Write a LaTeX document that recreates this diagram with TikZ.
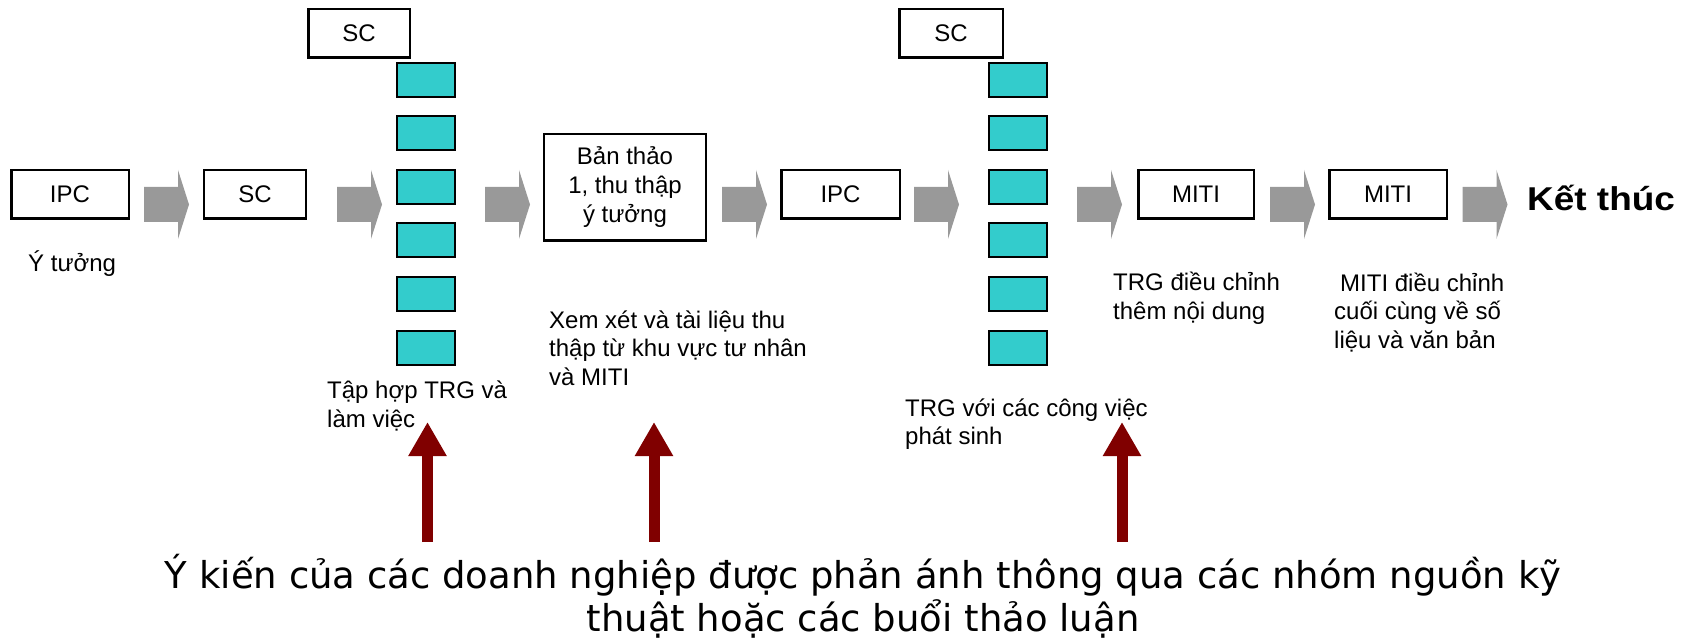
\documentclass[tikz,border=0pt]{standalone}
\usepackage{fontspec}
\usepackage{graphicx}
\setmainfont{Liberation Sans}
\newfontfamily\opinionfont{DejaVu Sans}
\usetikzlibrary{calc,arrows.meta}
\definecolor{trgteal}{RGB}{51,204,204}
\definecolor{arrowgray}{RGB}{153,153,153}
\definecolor{inputred}{RGB}{128,0,0}
\def\blockarrow(#1){\fill[arrowgray] ($(#1)+(0,-17.5)$) -- ++(34,0) -- ++(0,-17) -- ++(11,34.5) -- ++(-11,34.5) -- ++(0,-17) -- ++(-34,0) -- cycle;}
\tikzset{
	stagebox/.style={draw=black, line width=2.5pt, minimum height=48.5pt, inner sep=0pt},
	trgbox/.style={draw=black, fill=trgteal, line width=2pt, minimum width=58pt, minimum height=34pt, inner sep=0pt},
	note/.style={align=left, anchor=base west, inner sep=0pt},
	inputarrow/.style={draw=inputred, line width=11pt, -{Triangle[width=36pt,length=34pt]}}
}

\begin{document}
\begin{tikzpicture}[x=1pt,y=-1pt,font=\fontsize{24}{28.5}\selectfont]
			%%%%% START %%%%%
			\useasboundingbox (0,0) rectangle (1687,639);
			
			% base of a note = baseline of its last line
			\node[stagebox, minimum width=117.5pt] (ipcA) at (70,194.5) {IPC};
			\node[note] (ideaNote) at (28,272) {Ý tưởng};
			\blockarrow(144,204.5);
			
			\node[stagebox, minimum width=102pt] (scA) at (255,194.5) {SC};
			\blockarrow(337,204.5);
			
			\node[stagebox, minimum width=101.5pt] (scTopA) at (359,33.5) {SC};
			\node[trgbox] (trgA1) at (426,80) {};
			\node[trgbox] (trgA2) at (426,133.5) {};
			\node[trgbox] (trgA3) at (426,187) {};
			\node[trgbox] (trgA4) at (426,240.5) {};
			\node[trgbox] (trgA5) at (426,294) {};
			\node[trgbox] (trgA6) at (426,347.5) {};
			\node[note] (trgNoteA) at (327,427) {Tập hợp TRG và\\làm việc};
			\blockarrow(485,204.5);
			
			\node[stagebox, minimum width=162pt, minimum height=106.5pt, align=center, font=\fontsize{24}{29}\selectfont] (draft) at (625,187.5) {\raisebox{-4pt}{Bản thảo}\\\raisebox{-4pt}{1, thu thập}\\\raisebox{-4pt}{ý tưởng}};
			\node[note] (draftNote) at (549,385) {Xem xét và tài liệu thu\\thập từ khu vực tư nhân\\và MITI};
			\blockarrow(722,204.5);
			
			\node[stagebox, minimum width=118.5pt] (ipcB) at (840.5,194.5) {IPC};
			\blockarrow(914,204.5);
			
			\node[stagebox, minimum width=103.5pt] (scTopB) at (951,33.5) {SC};
			\node[trgbox] (trgB1) at (1018,80) {};
			\node[trgbox] (trgB2) at (1018,133.5) {};
			\node[trgbox] (trgB3) at (1018,187) {};
			\node[trgbox] (trgB4) at (1018,240.5) {};
			\node[trgbox] (trgB5) at (1018,294) {};
			\node[trgbox] (trgB6) at (1018,347.5) {};
			\node[note] (trgNoteB) at (905,444.5) {TRG với các công việc\\phát sinh};
			\blockarrow(1077,204.5);
			
			\node[stagebox, minimum width=115.5pt] (mitiA) at (1196,194.5) {MITI};
			\node[note] (mitiNoteA) at (1113,319.5) {TRG điều chỉnh\\thêm nội dung};
			\blockarrow(1270,204.5);
			
			\node[stagebox, minimum width=117.5pt] (mitiB) at (1388,194.5) {MITI};
			\node[note] (mitiNoteB) at (1334,348) {\hspace*{6pt}MITI điều chỉnh\\cuối cùng về số\\liệu và văn bản};
			\blockarrow(1462.5,204.5);
			
			\node[anchor=base west, inner sep=0pt, font=\fontsize{33}{40}\selectfont\bfseries] (finish) at (1527,211) {\scalebox{1.12}[1]{Kết thúc}};
			
			\node[anchor=base, align=center, inner sep=0pt, font={\opinionfont\fontsize{37}{43}\selectfont}] (opinion) at (863,631) {Ý kiến của các doanh nghiệp được phản ánh thông qua các nhóm nguồn kỹ\\thuật hoặc các buổi thảo luận};
			
			\coordinate (tip1) at (427.5,422);
			\coordinate (foot1) at (427.5,542);
			\coordinate (tip2) at (654,422);
			\coordinate (foot2) at (654,542);
			\coordinate (tip3) at (1122,422);
			\coordinate (foot3) at (1122,542);
			\draw[inputarrow] (foot1) -- (tip1);
			\draw[inputarrow] (foot2) -- (tip2);
			\draw[inputarrow] (foot3) -- (tip3);
			
			%%%%% END %%%%%
		\end{tikzpicture}
\end{document}
